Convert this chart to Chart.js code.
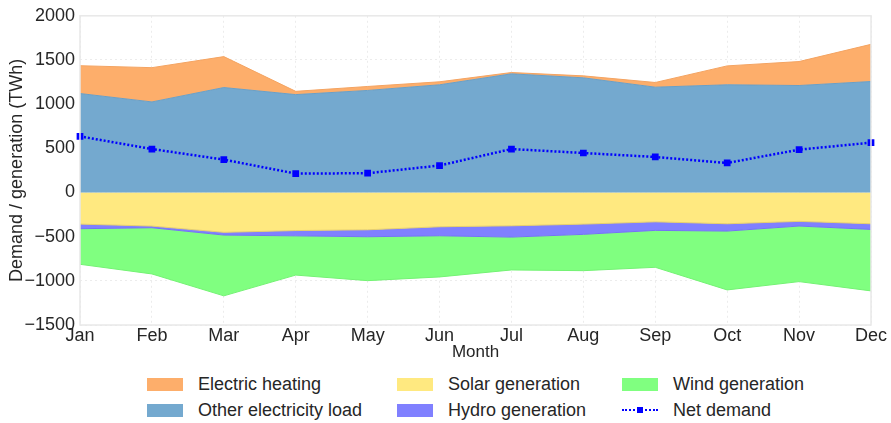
<!DOCTYPE html>
<html>
<head>
<meta charset="utf-8">
<script src="https://cdn.jsdelivr.net/npm/chart.js@4.4.1/dist/chart.umd.min.js"></script>
<style>
  body { margin: 0; background: #fff; font-family: "Liberation Sans", Arial, sans-serif; color: #262626; }
  #wrap { position: relative; width: 891px; height: 423px; }
  #chartBox { position: absolute; left: 0; top: 0; width: 891px; height: 365px; }
  .leg { position: absolute; font-size: 18px; line-height: 20px; white-space: nowrap; }
  .swatch { position: absolute; width: 36px; height: 13px; }
  .netsym { position: absolute; width: 36px; height: 13px; }
  .netsym .ln { position: absolute; left: 0; right: 0; top: 5px; border-top: 2.5px dotted #0000ff; }
  .netsym .mk { position: absolute; left: 15px; top: 3px; width: 6px; height: 6px; background: #0000ff; }
</style>
</head>
<body>
<div id="wrap">
  <div id="chartBox"><canvas id="energyChart"></canvas></div>
  <div id="legend"></div>
</div>
<script>
/* Monthly demand vs generation (TWh) - stacked areas + net demand line */

const MONTHS = ['Jan', 'Feb', 'Mar', 'Apr', 'May', 'Jun', 'Jul', 'Aug', 'Sep', 'Oct', 'Nov', 'Dec'];
const Y_TICKS = [-1500, -1000, -500, 0, 500, 1000, 1500, 2000];

// demand side (positive)
const otherLoad = [1120, 1025, 1188, 1108, 1155, 1219, 1343, 1298, 1192, 1219, 1211, 1256];
const electricHeating = [315, 388, 350, 37, 45, 34, 15, 22, 53, 214, 271, 421];

// generation side (drawn below zero)
const solarGen = [358, 380, 451, 431, 422, 388, 377, 358, 332, 354, 327, 354];
const hydroGen = [52, 19, 31, 60, 79, 102, 128, 116, 97, 83, 53, 64];
const windGen = [403, 523, 688, 444, 497, 466, 372, 411, 418, 666, 629, 696];

const netDemand = [635, 492, 372, 214, 218, 305, 492, 447, 402, 334, 485, 564];

const COLORS = {
  heating: '#fdae6b', other: '#74a9cf', solar: '#ffe980', hydro: '#8080ff', wind: '#80ff80', net: '#0000ff'
};
const EDGES = {
  heating: '#f4a462', other: '#6c9fc4', solar: '#e6cf6e', hydro: '#7474f2', wind: '#74f274'
};
const TEXT = '#262626';
const FONT = '"Liberation Sans", Arial, sans-serif';

const neg = arr => arr.map(v => -v);

function area(label, key, data, fill) {
  return {
    label, data, fill, stack: 'energy',
    backgroundColor: COLORS[key], borderColor: EDGES[key], borderWidth: 1,
    pointRadius: 0, tension: 0
  };
}

// plot frame (light grey box round the chart area)
const framePlugin = {
  id: 'frame',
  afterDraw(chart) {
    const { ctx, chartArea: a } = chart;
    ctx.save();
    ctx.strokeStyle = '#e8e8e8';
    ctx.lineWidth = 1.5;
    ctx.strokeRect(a.left, a.top, a.right - a.left, a.bottom - a.top);
    ctx.restore();
  }
};

const energyChart = new Chart(document.getElementById('energyChart'), {
  type: 'line',
  data: {
    labels: MONTHS,
    datasets: [
      area('Other electricity load', 'other', otherLoad, 'origin'),
      area('Electric heating', 'heating', electricHeating, '-1'),
      area('Solar generation', 'solar', neg(solarGen), 'origin'),
      area('Hydro generation', 'hydro', neg(hydroGen), '-1'),
      area('Wind generation', 'wind', neg(windGen), '-1'),
      {
        label: 'Net demand', data: netDemand, stack: 'net', fill: false, order: -1,
        borderColor: COLORS.net, backgroundColor: COLORS.net, borderWidth: 2.5, borderDash: [2, 2],
        pointStyle: 'rect', pointRadius: 3, tension: 0
      }
    ]
  },
  options: {
    responsive: true,
    maintainAspectRatio: false,
    animation: false,
    layout: { padding: { top: 15, right: 20, left: 0, bottom: 0 } },
    plugins: { legend: { display: false }, tooltip: { enabled: false } },
    scales: {
      x: {
        offset: false,
        grid: { color: '#ececec', drawTicks: false },
        border: { display: false, dash: [2, 3] },
        ticks: { color: TEXT, font: { family: FONT, size: 18 }, padding: 0, maxRotation: 0, autoSkip: false },
        title: { display: true, text: 'Month', color: TEXT, font: { family: FONT, size: 17 }, padding: { top: 0, bottom: 2 } },
        afterFit(scale) { scale.height = 40; }
      },
      y: {
        stacked: true,
        min: -1500, max: 2000,
        afterBuildTicks(scale) { scale.ticks = Y_TICKS.map(v => ({ value: v })); },
        grid: { color: '#ececec', drawTicks: false },
        border: { display: false, dash: [2, 3] },
        ticks: {
          color: TEXT, font: { family: FONT, size: 18 }, padding: 5,
          callback: v => (v < 0 ? '\u2212' + Math.abs(v) : String(v))
        },
        title: { display: true, text: 'Demand / generation (TWh)', color: TEXT, font: { family: FONT, size: 18 }, padding: { top: 6, bottom: 0 } },
        afterFit(scale) { scale.width = 80; }
      }
    }
  },
  plugins: [framePlugin]
});

// matplotlib-style legend: 3 columns, filled column by column
const LEGEND_ITEMS = [
  ['Electric heating', 'heating'], ['Other electricity load', 'other'],
  ['Solar generation', 'solar'], ['Hydro generation', 'hydro'],
  ['Wind generation', 'wind'], ['Net demand', 'net']
];
const legendEl = document.getElementById('legend');
const colLeft = [147, 397, 622];
const rowTop = [378, 404];
LEGEND_ITEMS.forEach(([label, key], i) => {
  const x = colLeft[Math.floor(i / 2)];
  const y = rowTop[i % 2];
  const sym = document.createElement('div');
  if (key === 'net') {
    sym.className = 'netsym';
    sym.innerHTML = '<div class="ln"></div><div class="mk"></div>';
  } else {
    sym.className = 'swatch';
    sym.style.background = COLORS[key];
  }
  sym.style.left = x + 'px';
  sym.style.top = y + 'px';
  legendEl.appendChild(sym);

  const txt = document.createElement('div');
  txt.className = 'leg';
  txt.textContent = label;
  txt.style.left = (x + 51) + 'px';
  txt.style.top = (y - 4) + 'px';
  legendEl.appendChild(txt);
});
</script>
</body>
</html>
